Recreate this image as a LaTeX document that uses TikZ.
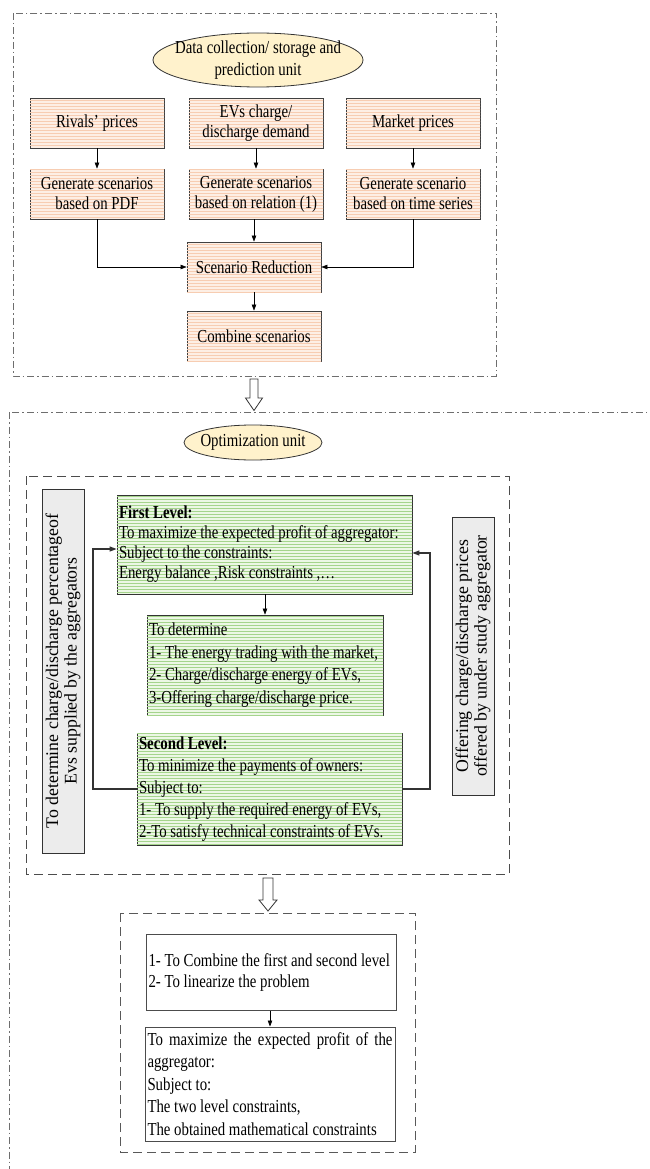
\documentclass[tikz,border=0pt]{standalone}
\usepackage{fontspec}
\setmainfont{Liberation Serif}[FakeStretch=0.81]
\newfontfamily\sideserif{Liberation Serif}
\usetikzlibrary{shapes.geometric,patterns,arrows.meta}
\hyphenpenalty=10000
\exhyphenpenalty=10000
\newcommand{\narrowspace}{\spaceskip=3.7pt plus 2pt minus 1.2pt\xspaceskip=3.7pt plus 2pt minus 1.2pt\relax}

\definecolor{peach}{RGB}{253,239,229}
\definecolor{peachline}{RGB}{247,205,178}
\definecolor{mint}{RGB}{236,247,229}
\definecolor{mintline}{RGB}{165,212,140}
\definecolor{sand}{RGB}{255,242,204}
\definecolor{shade}{RGB}{236,236,236}
\definecolor{frame}{RGB}{110,110,110}

\tikzset{
  txt/.style={font=\fontsize{18.3}{20}\selectfont, execute at begin node=\narrowspace},
  databox/.style={txt, draw=black!75, line width=0.8pt, fill=peach, postaction={pattern=horizontal lines, pattern color=peachline}, minimum width=134, minimum height=50, align=center, inner sep=1pt},
  levelbox/.style={txt, draw=black!80, line width=0.8pt, fill=mint, postaction={pattern=horizontal lines, pattern color=mintline}, align=left, inner sep=2pt},
  unit/.style={ellipse, draw=black!80, line width=0.8pt, fill=sand, inner sep=0pt},
  sidebox/.style={draw=black!80, line width=0.8pt, fill=shade, align=center, rotate=90, inner sep=2pt, font=\sideserif\fontsize{17.8}{18.5}\selectfont},
  plainbox/.style={txt, draw=black!70, line width=1pt, fill=white, align=left, inner sep=2.5pt, text width=245},
  arr/.style={-{Triangle[length=6pt,width=4.5pt]}, line width=0.6pt},
  fb/.style={-{Triangle[length=7pt,width=5pt]}, line width=1.2pt, draw=black!80},
  unitframe/.style={draw=frame, line width=0.6pt, dash pattern=on 7pt off 3pt on 1.5pt off 3pt},
  groupframe/.style={draw=black!70, line width=1pt, dash pattern=on 9pt off 5pt},
  hollow/.style={draw=black!80, line width=0.8pt, fill=white}
}

\begin{document}
\begin{tikzpicture}[x=1pt,y=1pt,yscale=-1,xscale=1]
        \useasboundingbox (0,0) rectangle (649,1169);

        \draw[unitframe] (13,13) rectangle (496,376);
        \draw[unitframe] (9.3,412) rectangle (660,1180);
        \draw[groupframe] (26,476) rectangle (509,874);
        \draw[groupframe, draw=black!65] (120,913) rectangle (415,1152);

        \node[unit, minimum width=210, minimum height=54] (datashape) at (258,60) {};
        \node[txt, align=center, font=\fontsize{18.3}{22}\selectfont] (datatext) at (datashape) {Data collection/ storage and\\prediction unit};

        \node[databox] (rivals) at (97,123) {Rivals’ prices};
        \node[databox] (evs) at (256,123) {EVs charge/\\discharge demand};
        \node[databox] (market) at (413,123) {Market prices};
        \node[databox] (genpdf) at (97,194) {Generate scenarios\\based on PDF};
        \node[databox] (genrel) at (256,194) {Generate scenarios\\based on relation (1)};
        \node[databox] (gentime) at (413,194) {Generate scenario\\based on time series};
        \node[databox] (reduce) at (254,267) {Scenario Reduction};
        \node[databox] (combine) at (254,336) {Combine scenarios};

        \draw[arr] (rivals) -- (genpdf);
        \draw[arr] (evs) -- (genrel);
        \draw[arr] (market) -- (gentime);
        \draw[arr] (genpdf.south) |- (reduce.west);
        \draw[arr] (gentime.south) |- (reduce.east);
        \draw[arr] (genrel.south -| reduce) -- (reduce.north);
        \draw[arr] (reduce) -- (combine);

        \draw[hollow] (250,379) -- (258,379) -- (258,398) -- (262.5,398) -- (254,410.5) -- (245.5,398) -- (250,398) -- cycle;

        \node[unit, minimum width=138, minimum height=35] (optshape) at (253,442.5) {};
        \node[txt] (opttext) at (optshape) {Optimization unit};

        \node[levelbox, text width=291, minimum height=99] (first) at (264.5,544.5) {\textbf{First Level:}\\To maximize the expected profit of aggregator:\\Subject to the constraints:\\Energy balance ,Risk constraints ,…};
        \node[levelbox, text width=232, minimum height=100, font=\fontsize{18.3}{22.5}\selectfont] (determine) at (265,665) {To determine\\1- The energy trading with the market,\\2- Charge/discharge energy of EVs,\\3-Offering charge/discharge price.};
        \node[levelbox, text width=261, minimum height=112, font=\fontsize{18.3}{22}\selectfont] (second) at (269.5,789) {\textbf{Second Level:}\\To minimize the payments of owners:\\Subject to:\\1- To supply the required energy of EVs,\\2-To satisfy technical constraints of EVs.};

        \node[sidebox, minimum width=364, minimum height=42] (leftside) at (63,671) {To determine charge/discharge percentageof\\Evs supplied by the aggregators};
        \node[sidebox, minimum width=278, minimum height=42] (rightside) at (473,656) {Offering charge/discharge prices\\offered by under study aggregator};

        \coordinate (leftin) at (93,549);
        \coordinate (rightin) at (430,553);
        \draw[arr] (first.south -| determine) -- (determine.north);
        \draw[fb] (second.west) -| (leftin) -- (leftin -| first.west);
        \draw[fb] (second.east) -| (rightin) -- (rightin -| first.east);

        \draw[hollow] (263,878) -- (273,878) -- (273,900) -- (277,900) -- (268,911) -- (259,900) -- (263,900) -- cycle;

        \node[plainbox, minimum height=76, font=\fontsize{18.3}{21}\selectfont] (merge) at (271,972) {1- To Combine the first and second level\\2- To linearize the problem};
        \node[plainbox, minimum height=114, font=\fontsize{18.3}{22.5}\selectfont] (final) at (270,1084) {\makebox[245pt][s]{To maximize the expected profit of the}\\aggregator:\\Subject to:\\The two level constraints,\\The obtained mathematical constraints};
        \draw[arr] (merge.south -| final) -- (final.north);
\end{tikzpicture}
\end{document}
